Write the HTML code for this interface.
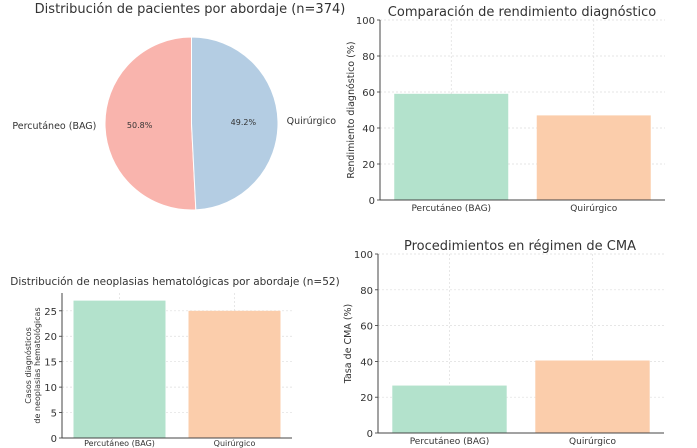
<!DOCTYPE html>
<html><head><meta charset="utf-8"><style>
body{margin:0;background:#fff;}
svg{display:block;font-family:"DejaVu Sans","Liberation Sans",sans-serif;}
</style></head><body>
<svg id="s" width="697" height="448" viewBox="0 0 697 448"></svg>
<script>
const pieLabels=["Percutáneo (BAG)","Quirúrgico"];
const pieValues=[50.8,49.2];
const pieColors=["#f9b4ad","#b4cde3"];
const barCats=["Percutáneo (BAG)","Quirúrgico"];
const rendValues=[59,47];
const rendTicks=[0,20,40,60,80,100];
const neoValues=[27,25];
const neoTicks=[0,5,10,15,20,25];
const cmaValues=[26.5,40.5];
const cmaTicks=[0,20,40,60,80,100];
const barColors=["#b3e2cc","#fbcdab"];

const NS="http://www.w3.org/2000/svg";
const s=document.getElementById('s');
function mk(tag,attrs,parent){const e=document.createElementNS(NS,tag);for(const k in attrs)e.setAttribute(k,attrs[k]);(parent||s).appendChild(e);return e;}
function txt(x,y,t,size,anchor,parent,extra){const e=mk('text',Object.assign({x:x,y:y,'font-size':size,'text-anchor':anchor||'middle',fill:'#333'},extra||{}),parent);e.textContent=t;return e;}

// Pie
const pg=mk('g',{});


const tt=txt(190,13,"Distribución de pacientes por abordaje (n=374)",13,'middle',pg);


const cx=191.5,cy=123.5,r=86.5;
const tot=pieValues.reduce((a,b)=>a+b,0);
let ang=90;
pieValues.forEach((v,i)=>{
  const sweep=v/tot*360;
  const a0=ang*Math.PI/180,a1=(ang+sweep)*Math.PI/180;
  const x0=cx+r*Math.cos(a0),y0=cy-r*Math.sin(a0),x1=cx+r*Math.cos(a1),y1=cy-r*Math.sin(a1);
  const p=mk('path',{d:`M${cx},${cy}L${x0},${y0}A${r},${r} 0 ${sweep>180?1:0} 0 ${x1},${y1}Z`,fill:pieColors[i],stroke:'#fff','stroke-width':1},pg);
  
  
  const mid=(ang+sweep/2)*Math.PI/180;
  const pl=txt(cx+0.6*r*Math.cos(mid),cy-0.6*r*Math.sin(mid)+3,v.toFixed(1)+'%',8,'middle',pg);
  
  
  const lx=cx+1.1*r*Math.cos(mid),ly=cy-1.1*r*Math.sin(mid)+3;
  const ll=txt(lx,ly,pieLabels[i],9.5,Math.cos(mid)<0?'end':'start',pg);
  
  
  ang+=sweep;
});

function barChart(o){
  const g=mk('g',{});
  
  
  const {L,R,T,B,max}=o;
  const y=v=>B-(v/max)*(B-T);
  o.ticks.forEach(t=>{
    mk('line',{x1:L,x2:R,y1:y(t),y2:y(t),stroke:'#ddd','stroke-width':0.7,'stroke-dasharray':'2,2'},g);
    const tl=txt(L-5,y(t)+4,String(t),10,'end',g);
    
    
    mk('line',{x1:L-3,x2:L,y1:y(t),y2:y(t),stroke:'#333','stroke-width':0.8},g);
  });
  const w=(R-L)*0.4;
  o.vals.forEach((v,i)=>{
    const c=L+(R-L)*(0.25+0.5*i);
    mk('line',{x1:c,x2:c,y1:T,y2:B,stroke:'#ddd','stroke-width':0.7,'stroke-dasharray':'2,2'},g);
    const b=mk('rect',{x:c-w/2,y:y(v),width:w,height:B-y(v),fill:barColors[i]},g);
    
    
    const xl=txt(c,B+(o.xoff||11),barCats[i],o.xfs||9,'middle',g);
    
    
  });
  mk('line',{x1:L,x2:L,y1:T,y2:B,stroke:'#444','stroke-width':1},g);
  mk('line',{x1:L,x2:R,y1:B,y2:B,stroke:'#444','stroke-width':1},g);
  const ti=txt(o.tx,o.ty,o.title,o.tfs||13,'middle',g);
  
  
  const yc=(T+B)/2;
  o.ylab.forEach((l,k)=>{
    const xx=o.yx+k*9;
    const yl=txt(xx,yc,l,o.yfs||9,'middle',g,{transform:`rotate(-90 ${xx} ${yc})`});
    
    
  });
}
barChart({name:'rendimiento-chart',L:380,R:665,T:20,B:200,max:100,vals:rendValues,ticks:rendTicks,title:"Comparación de rendimiento diagnóstico",tx:522,ty:16,ylab:["Rendimiento diagnóstico (%)"],yx:354,yfs:9.5});
barChart({name:'neoplasias-chart',L:62,R:292,T:293,B:438,max:28.5,vals:neoValues,ticks:neoTicks,title:"Distribución de neoplasias hematológicas por abordaje (n=52)",tx:175,ty:285,tfs:10.5,ylab:["Casos diagnósticos","de neoplasias hematológicas"],yx:31,yfs:8,xfs:8,xoff:8});
barChart({name:'cma-chart',L:378,R:664,T:254,B:433,max:100,vals:cmaValues,ticks:cmaTicks,title:"Procedimientos en régimen de CMA",tx:520,ty:250,ylab:["Tasa de CMA (%)"],yx:351,yfs:9.5});
</script>
</body></html>
